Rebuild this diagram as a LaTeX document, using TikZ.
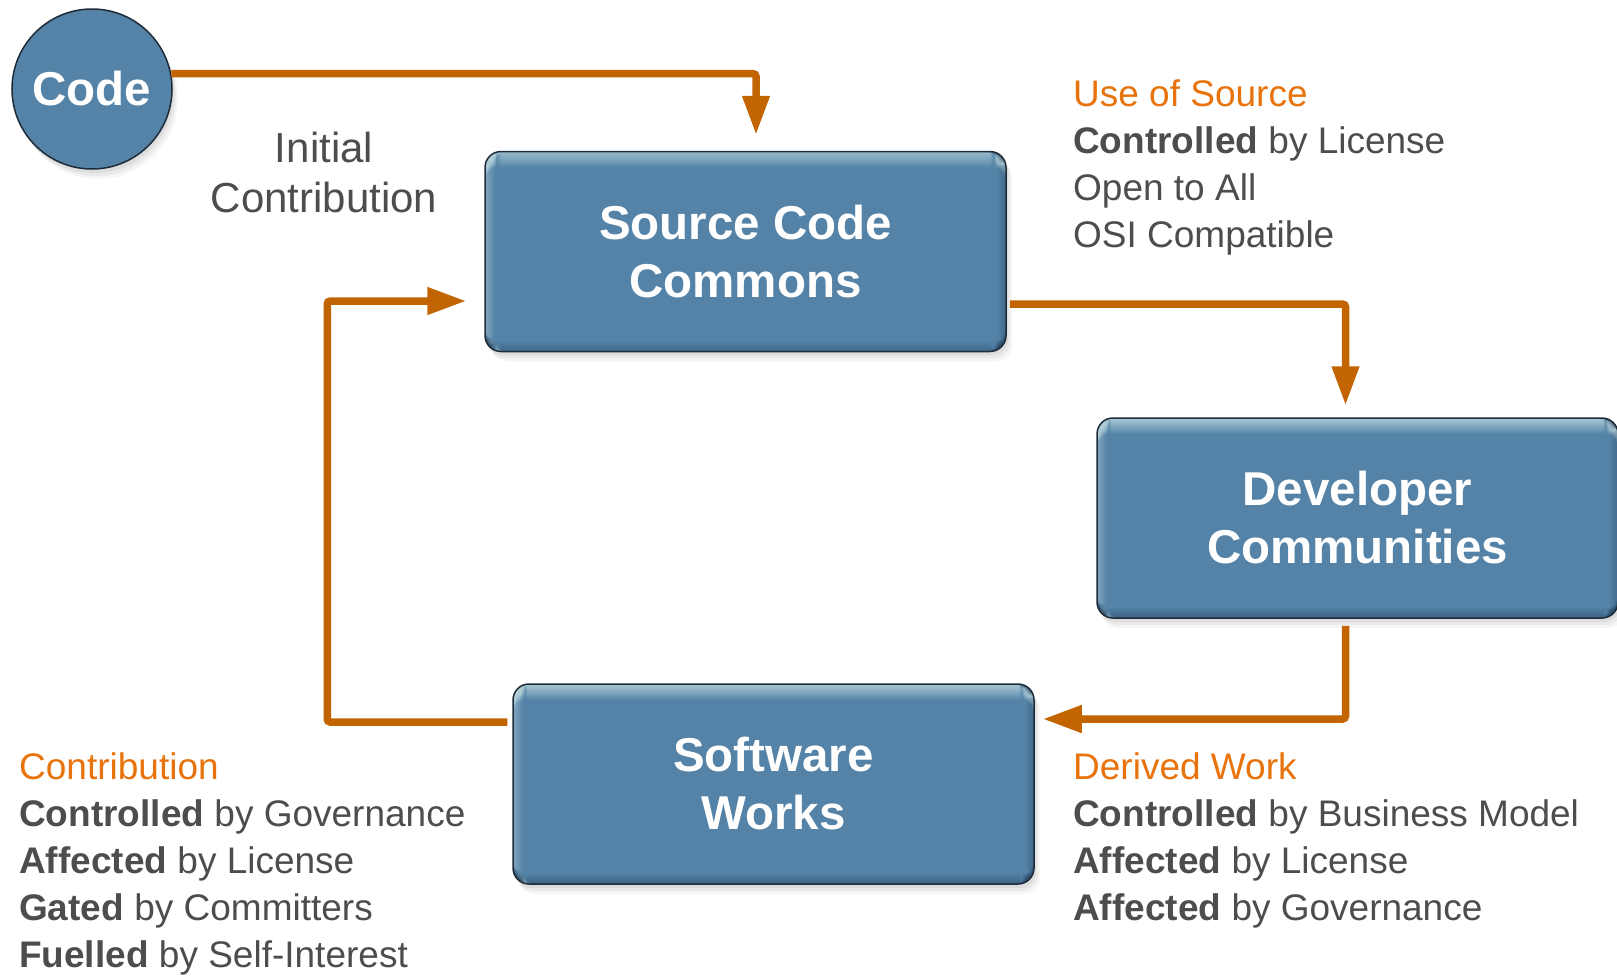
\documentclass[tikz,border=0pt]{standalone}
\usepackage{fontspec}
\setmainfont{Liberation Sans}
\usetikzlibrary{arrows.meta,shadows}
\definecolor{boxblue}{HTML}{5483A7}
\definecolor{boxhi}{HTML}{B2CFD8}
\definecolor{boxdark}{HTML}{2E4F6B}
\definecolor{boxedge}{HTML}{1E2C3A}
\definecolor{arrorange}{HTML}{C26400}
\definecolor{txtorange}{HTML}{E8730C}
\definecolor{txtgray}{HTML}{4D4D4D}
\begin{document}
\begin{tikzpicture}[x=1pt,y=-1pt,
  softshadow/.style={
    drop shadow={shadow xshift=2pt,shadow yshift=-4pt,opacity=.12},
    drop shadow={shadow xshift=4pt,shadow yshift=-7pt,opacity=.10},
    drop shadow={shadow xshift=6pt,shadow yshift=-10pt,opacity=.07}},
  bluebox/.style={rectangle, rounded corners=16pt, minimum width=521pt,
    minimum height=200pt, fill=boxblue, draw=boxedge, line width=1.5pt,
    text=white, font=\fontsize{47.5}{58}\selectfont\bfseries, align=center,
    inner sep=0pt, softshadow,
    path picture={
      \foreach \i [evaluate=\i as \op using 0.9*(1-\i/16)] in {0,...,15}
        \fill[boxhi, opacity=\op]
          ([yshift=-\i pt]path picture bounding box.north west) rectangle
          ([yshift=-\i pt-1pt]path picture bounding box.north east);
      \foreach \i [evaluate=\i as \op using 0.45*(1-\i/10)] in {0,...,9}
        \fill[boxhi, opacity=\op]
          ([xshift=\i pt]path picture bounding box.north west) rectangle
          ([xshift=\i pt+1pt]path picture bounding box.south west);
      \foreach \i [evaluate=\i as \op using 0.55*(1-\i/10)] in {0,...,9}
        \fill[boxdark, opacity=\op]
          ([yshift=\i pt]path picture bounding box.south west) rectangle
          ([yshift=\i pt+1pt]path picture bounding box.south east);
      \foreach \i [evaluate=\i as \op using 0.4*(1-\i/8)] in {0,...,7}
        \fill[boxdark, opacity=\op]
          ([xshift=-\i pt]path picture bounding box.north east) rectangle
          ([xshift=-\i pt-1pt]path picture bounding box.south east);
    }},
  codeball/.style={circle, minimum size=160pt, inner sep=0pt, fill=boxblue,
    draw=boxedge, line width=1.5pt, text=white,
    font=\fontsize{47.5}{56}\selectfont\bfseries, softshadow},
  arr/.style={draw=arrorange, line width=7.5pt, rounded corners=3pt,
    -{Triangle[length=39pt,width=26pt]}},
  lbl/.style={inner sep=0pt, text=txtgray, font=\fontsize{37}{47}\selectfont},
  lblhead/.style={lbl, text=txtorange},
  initlbl/.style={inner sep=0pt, text=txtgray, font=\fontsize{42}{52}\selectfont}
]
\useasboundingbox (0,0) rectangle (1617,975);

% main nodes
\node[codeball] (code) at (92,89) {Code};
\node[bluebox] (scc) at (745.5,251.5) {Source Code\\Commons};
\node[bluebox] (dev) at (1357.5,518) {Developer\\Communities};
\node[bluebox] (sw) at (773.5,784) {Software\\Works};

% connectors
\draw[arr] (code.11) -| ([xshift=10.5pt,yshift=16pt]scc.north);
\draw[arr] ([xshift=3pt,yshift=-52.5pt]scc.east) -| ([xshift=-12pt,yshift=12pt]dev.north);
\draw[arr] ([xshift=-12pt,yshift=-7pt]dev.south) |- ([xshift=8pt,yshift=65pt]sw.east);
\draw[arr] ([xshift=-5pt,yshift=62pt]sw.west) -- ++(-180,0) |- ([xshift=-18pt,yshift=-49.5pt]scc.west);

% initial contribution
\node[initlbl, anchor=base] (ic1) at (324,162) {Initial};
\node[initlbl, anchor=base] (ic2) at (324,212) {Contribution};

% use of source
\node[lblhead, anchor=base west] (us0) at (1073,106) {Use of Source};
\node[lbl, anchor=base west] (us1) at (1073,153) {\textbf{Controlled} by License};
\node[lbl, anchor=base west] (us2) at (1073,200) {Open to All};
\node[lbl, anchor=base west] (us3) at (1073,247) {OSI Compatible};

% derived work
\node[lblhead, anchor=base west] (dw0) at (1073,779) {Derived Work};
\node[lbl, anchor=base west] (dw1) at (1073,826) {\textbf{Controlled} by Business Model};
\node[lbl, anchor=base west] (dw2) at (1073,873) {\textbf{Affected} by License};
\node[lbl, anchor=base west] (dw3) at (1073,920) {\textbf{Affected} by Governance};

% contribution
\node[lblhead, anchor=base west] (ct0) at (19,779) {Contribution};
\node[lbl, anchor=base west] (ct1) at (19,826) {\textbf{Controlled} by Governance};
\node[lbl, anchor=base west] (ct2) at (19,873) {\textbf{Affected} by License};
\node[lbl, anchor=base west] (ct3) at (19,920) {\textbf{Gated} by Committers};
\node[lbl, anchor=base west] (ct4) at (19,967) {\textbf{Fuelled} by Self-Interest};
\end{tikzpicture}
\end{document}
